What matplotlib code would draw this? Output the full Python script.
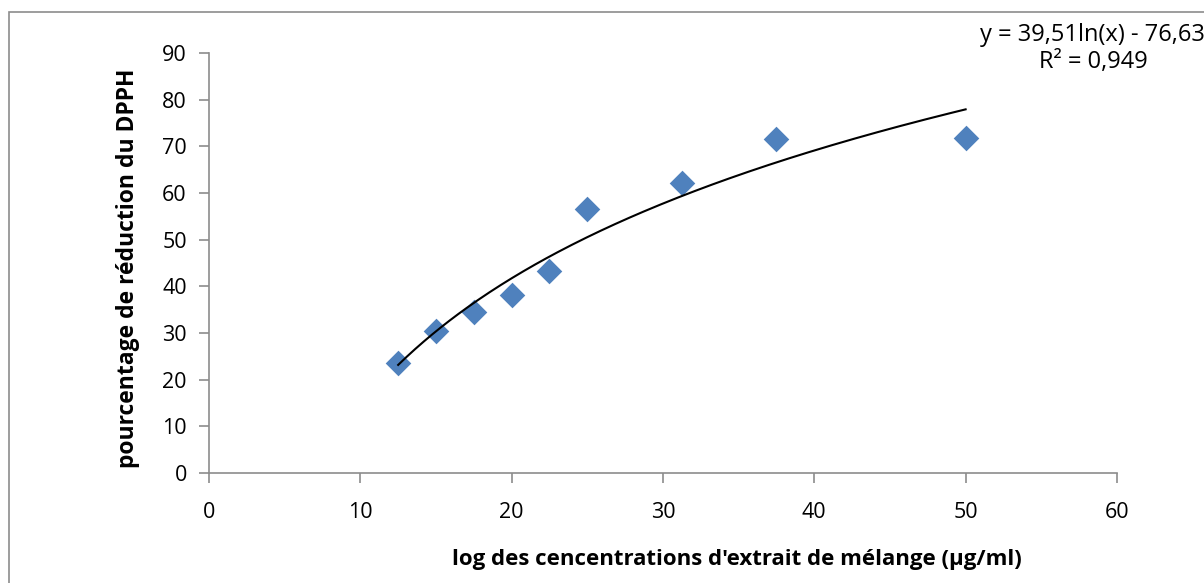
import numpy as np
import matplotlib.pyplot as plt
from matplotlib.patches import Rectangle

plt.rcParams['font.family'] = ['Open Sans', 'DejaVu Sans']

# concentrations (ug/ml) and % DPPH reduction
conc = [12.5, 15, 17.5, 20, 22.5, 25, 31.25, 37.5, 50]
reduction = [23.6, 30.4, 34.4, 38.1, 43.3, 56.5, 62.2, 71.5, 71.7]

# logarithmic trendline coefficients
coef_a = 39.51
coef_b = -76.63

fig = plt.figure(figsize=(12.04, 5.83), dpi=100)
ax = fig.add_axes([0.1736, 0.1887, 0.7541, 0.7203])

fig.patches.append(Rectangle((0.0075, -0.1), 1.1, 1.079, transform=fig.transFigure,
                             fill=False, edgecolor='#8c8c8c', linewidth=1.2))

ax.scatter(conc, reduction, marker='D', s=170, color='#4f81bd', zorder=3, linewidths=0)

xs = np.linspace(min(conc), max(conc), 200)
ax.plot(xs, coef_a * np.log(xs) + coef_b, color='black', linewidth=1.5, zorder=4)

ax.set_xlim(0, 60)
ax.set_ylim(0, 90)
ax.set_xticks(range(0, 61, 10))
ax.set_yticks(range(0, 91, 10))
for side in ['top', 'right']:
    ax.spines[side].set_visible(False)
for side in ['left', 'bottom']:
    ax.spines[side].set_color('#8c8c8c')
    ax.spines[side].set_linewidth(1.2)
ax.tick_params(axis='both', direction='out', length=7, width=1.2, color='#8c8c8c',
               labelsize=15.5, labelcolor='black')
ax.tick_params(axis='x', pad=14)
ax.tick_params(axis='y', pad=9)

fig.text(737 / 1204, 1 - 560 / 583, "log des cencentrations d'extrait de mélange (µg/ml)",
         ha='center', va='center', fontsize=16, fontweight='bold')
fig.text(128 / 1204, 1 - 268 / 583, 'pourcentage de réduction du DPPH',
         ha='center', va='center', rotation=90, fontsize=16.5, fontweight='bold')

fig.text(980 / 1204, 1 - 35 / 583, 'y = 39,51ln(x) - 76,63', ha='left', va='center', fontsize=17)
fig.text(1093 / 1204, 1 - 62 / 583, 'R² = 0,949', ha='center', va='center', fontsize=17)

fig.savefig('out.png', dpi=100)
